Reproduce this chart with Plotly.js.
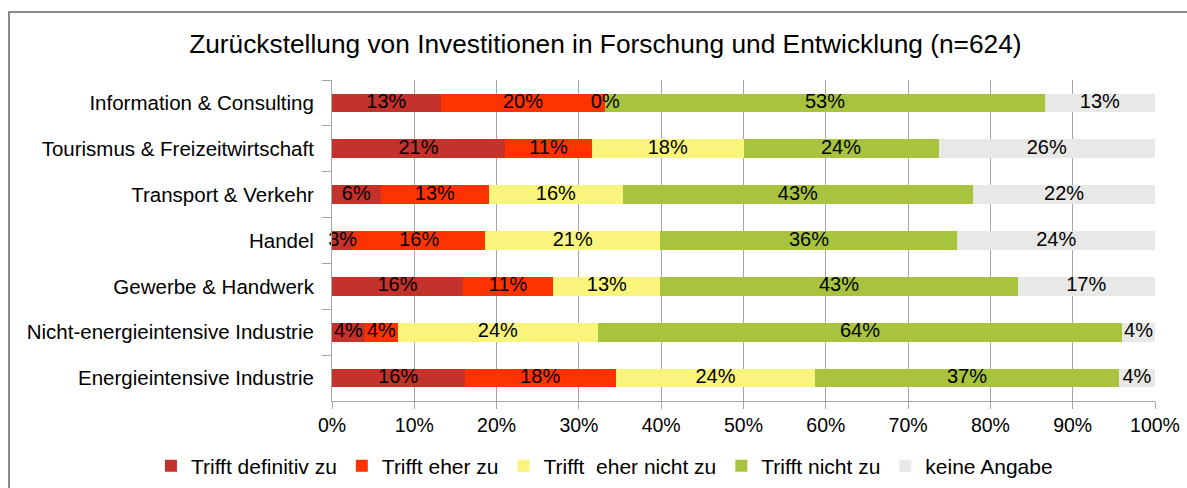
<!DOCTYPE html>
<html>
<head>
<meta charset="utf-8">
<script src="https://cdn.plot.ly/plotly-3.0.1.min.js"></script>
<style>
  html, body { margin: 0; padding: 0; background: #fff; }
  #wrap { position: relative; width: 1187px; height: 488px; overflow: hidden; }
  #chart { position: absolute; left: 0; top: 0; width: 1187px; height: 488px; }
  #frame { position: absolute; left: 8px; top: 11px; width: 1300px; height: 600px;
           border: 2px solid #8c8c8c; pointer-events: none; box-sizing: border-box; }
</style>
</head>
<body>
<div id="wrap">
  <div id="chart"></div>
  <div id="frame"></div>
</div>
<script>
const categories = [
  "Information & Consulting",
  "Tourismus & Freizeitwirtschaft",
  "Transport & Verkehr",
  "Handel",
  "Gewerbe & Handwerk",
  "Nicht-energieintensive Industrie",
  "Energieintensive Industrie"
];
const seriesNames = ["Trifft definitiv zu", "Trifft eher zu", "Trifft\u00a0 eher nicht zu", "Trifft nicht zu", "keine Angabe"];
const definitiv   = [13.2, 21.0,  5.9,  2.6, 15.9,  4.0, 16.1];
const eher        = [20.0, 10.6, 13.2, 16.0, 11.0,  4.0, 18.4];
const eherNicht   = [ 0.0, 18.4, 16.2, 21.3, 13.0, 24.3, 24.2];
const nicht       = [53.4, 23.7, 42.6, 36.1, 43.4, 63.7, 36.9];
const keineAngabe = [13.4, 26.3, 22.1, 24.0, 16.7,  4.0,  4.4];
const colors = ["#C4322C", "#FF3300", "#F8F47C", "#A8C43E", "#E8E8E6"];

const series = [definitiv, eher, eherNicht, nicht, keineAngabe];
const FONT = "Liberation Sans, Arial, sans-serif";

const traces = [];
series.forEach((vals, s) => {
  traces.push({
    type: "bar", orientation: "h",
    name: seriesNames[s], x: vals, y: categories,
    marker: { color: colors[s], line: { width: 0 } },
    hoverinfo: "name+x"
  });
});

// label trace: centre of each segment, computed from cumulative data
const lx = [], ly = [], lt = [];
categories.forEach((c, i) => {
  let cum = 0;
  series.forEach((vals) => {
    lx.push(cum + vals[i] / 2);
    ly.push(c);
    lt.push(Math.round(vals[i]) + "%");
    cum += vals[i];
  });
});
traces.push({
  type: "scatter", mode: "text", x: lx, y: ly, text: lt,
  textposition: "middle center", cliponaxis: false,
  textfont: { family: FONT, size: 20, color: "#000" },
  showlegend: false, hoverinfo: "skip"
});

const layout = {
  width: 1187, height: 488,
  margin: { l: 332, r: 32, t: 80, b: 87, autoexpand: false },
  barmode: "stack", bargap: 0.59,
  paper_bgcolor: "#fff", plot_bgcolor: "#fff",
  font: { family: FONT, size: 20, color: "#000" },
  title: {
    text: "Zurückstellung von Investitionen in Forschung und Entwicklung (n=624)",
    font: { family: FONT, size: 26.3, color: "#000" },
    xref: "container", x: 0.51, xanchor: "center",
    yref: "container", y: 0.91, yanchor: "middle"
  },
  xaxis: {
    range: [0, 100], dtick: 10, ticksuffix: "%",
    showgrid: true, gridcolor: "#a6a6a6", gridwidth: 1,
    zeroline: false, showline: true, linecolor: "#a6a6a6",
    ticks: "outside", ticklen: 7, tickcolor: "#a6a6a6",
    tickfont: { family: FONT, size: 19.5, color: "#000" },
    fixedrange: true
  },
  yaxis: {
    type: "category", autorange: "reversed",
    showgrid: false, zeroline: false, showline: true, linecolor: "#a6a6a6",
    ticks: "outside", tickson: "boundaries", ticklen: 9, tickcolor: "#a6a6a6",
    ticklabelstandoff: 13,
    tickfont: { family: FONT, size: 20.5, color: "#000" },
    fixedrange: true
  },
  showlegend: true,
  legend: {
    orientation: "h", traceorder: "normal",
    xref: "paper", x: -0.22, xanchor: "left",
    yref: "paper", y: -0.2025, yanchor: "middle",
    font: { family: FONT, size: 21, color: "#000" },
    itemwidth: 30
  }
};

Plotly.newPlot("chart", traces, layout, { displayModeBar: false, staticPlot: true });
</script>
</body>
</html>
